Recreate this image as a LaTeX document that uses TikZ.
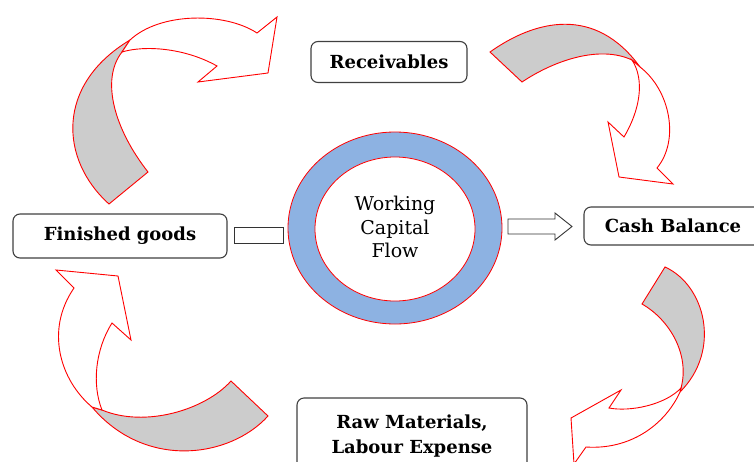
\documentclass[tikz,border=0pt]{standalone}
\usepackage{fontspec}
\setmainfont{DejaVu Serif}
\usetikzlibrary{shapes.geometric}

\definecolor{ringblue}{RGB}{141,178,226}
\definecolor{bandgray}{RGB}{204,204,204}

\tikzset{
  stagebox/.style={draw=black!75, line width=1.1pt, rounded corners=7pt, fill=white,
    font=\fontsize{18}{25}\selectfont\bfseries, align=center, inner sep=0pt},
  band/.style={draw=red, line width=0.9pt, line join=miter},
}

\begin{document}
\begin{tikzpicture}[x=1pt,y=-1pt] % 1 unit = 1 px of the drawing

% --------- SIZES ----------
\def\W{754}      % width
\def\H{461}      % height
\def\rx{107}     % outer half-width of the ring
\def\ry{96}      % outer half-height of the ring
% --------------------------

\useasboundingbox (0,0) rectangle (\W,\H);
\clip (0,0) rectangle (\W,\H);

% Curved arrow: finished goods -> receivables
\filldraw[band, fill=bandgray] (109,204) -- (148,172)
  .. controls (115,130) and (100,80) .. (122,52) -- (130,40)
  .. controls (55,85) and (60,160) .. cycle;
\filldraw[band, fill=white] (130,40) .. controls (160,12) and (225,12) .. (257,33)
  -- (277,17) -- (268,73) -- (198,82) -- (217,66)
  .. controls (185,48) and (145,45) .. (122,52) -- cycle;

% Curved arrow: receivables -> cash balance
\filldraw[band, fill=bandgray] (490,52) -- (522,82)
  .. controls (555,60) and (600,45) .. (632,60) -- (640,67)
  .. controls (595,5) and (535,20) .. cycle;
\filldraw[band, fill=white] (640,67) .. controls (670,90) and (680,140) .. (657,168)
  -- (673,184) -- (619,177) -- (608,122) -- (624,137)
  .. controls (640,110) and (645,80) .. (632,60) -- cycle;

% Curved arrow: cash balance -> raw materials
\filldraw[band, fill=bandgray] (665,267) -- (642,304)
  .. controls (670,320) and (690,355) .. (681,388) -- (680,392)
  .. controls (722,350) and (705,285) .. cycle;
\filldraw[band, fill=white] (680,392) .. controls (665,425) and (630,450) .. (586,447)
  -- (574,464) -- (571,418) -- (621,390) -- (609,408)
  .. controls (630,412) and (665,405) .. (681,388) -- cycle;

% Curved arrow: raw materials -> finished goods
\filldraw[band, fill=bandgray] (231,381) -- (268,416)
  .. controls (230,458) and (145,470) .. (92,407) -- (102,410)
  .. controls (145,428) and (205,410) .. cycle;
\filldraw[band, fill=white] (92,407) .. controls (60,380) and (45,330) .. (74,288)
  -- (56,270) -- (118,276) -- (131,340) -- (112,323)
  .. controls (95,350) and (92,385) .. (102,410) -- cycle;

% Ring in the middle
\node[ellipse, draw=red, line width=0.8pt, fill=ringblue,
  minimum width=2*\rx, minimum height=2*\ry] (ring) at (395,228) {};
\node[ellipse, draw=red, line width=0.8pt, fill=white, align=center,
  minimum width=160, minimum height=144, inner sep=0pt] (hub) at (395,229) {};
\node[align=center, font=\fontsize{19}{23.5}\selectfont] (title) at (395,227)
  {Working\\Capital\\Flow};

% Stages
\node[stagebox, minimum width=156, minimum height=41] (recv) at (389,62) {Receivables};
\node[stagebox, minimum width=178, minimum height=38] (cash) at (673,226) {Cash Balance};
\node[stagebox, minimum width=214, minimum height=44] (fin) at (120,236) {Finished goods};
\node[stagebox, minimum width=230, minimum height=76] (raw) at (412,436)
  {Raw Materials,\\Labour Expense};

% Link bar and block arrow
\node[draw=black!80, line width=0.9pt, minimum width=49, minimum height=16,
  inner sep=0pt] (link) at (258.5,235) {};
\draw[black!80, line width=0.9pt] (508,219) -- (555,219) -- (555,213) -- (572,226.5)
  -- (555,240) -- (555,234) -- (508,234) -- cycle;

\end{tikzpicture}
\end{document}
